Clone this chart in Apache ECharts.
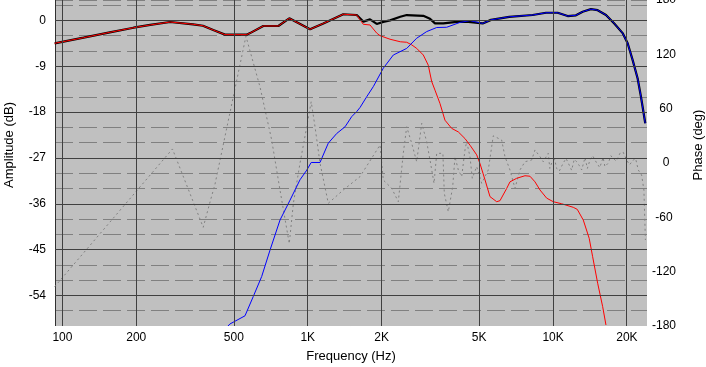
<!DOCTYPE html>
<html><head><meta charset="utf-8">
<script src="https://cdn.jsdelivr.net/npm/echarts@6/dist/echarts.min.js"></script>
<style>html,body{margin:0;padding:0;background:#fff}#c{width:706px;height:367px}</style>
</head><body><div id="c"></div>
<script>
// Axis ticks
const freqTicks = [100, 200, 500, 1000, 2000, 5000, 10000, 20000];
const freqTickLabels = ['100', '200', '500', '1K', '2K', '5K', '10K', '20K'];
const dbTicks = [0, -9, -18, -27, -36, -45, -54];
const freqMin = 93.3, freqMax = 24150;

// Total (black)
const totalFreq = [93,122,156,195,228,275,341,374,412,460,564,582,659,759,841,1022,1158,1396,1584,1685,1794,1911,2032,2165,2384,2532,2959,3151,3302,3570,4048,4416,5166,5584,6630,8260,9360,10440,11470,12400,13200,14270,15200,16430,17760,19210,20140,21110,22120,22820,23760];
const totalDb = [-4.5,-3.4,-2.35,-1.44,-0.9,-0.32,-0.77,-1.05,-1.9,-2.8,-2.8,-2.5,-1.1,-1.1,0.4,-1.75,-0.6,1.2,1.05,-0.25,0.2,-0.7,-0.3,0.0,0.7,1.05,0.9,0.3,-0.6,-0.6,-0.3,-0.25,-0.6,0.1,0.7,1.05,1.5,1.5,0.85,1.0,1.7,2.2,2.0,1.05,-0.6,-2.5,-4.5,-7.8,-11.4,-15.0,-20.2];

// Woofer (red)
const wooferFreq = [93,122,156,195,228,275,341,374,412,460,564,582,659,759,841,1022,1158,1396,1584,1608,1685,1794,1911,1971,2165,2384,2532,2653,2781,2959,3100,3201,3302,3459,3626,3861,4110,4375,4586,4883,5036,5279,5532,5891,6076,6470,6674,7108,7684,8054,8441,8846,9417,10020,10840,12090,12550,13280,14040,14500,15200,15930,16430];
const wooferDb = [-4.5,-3.4,-2.35,-1.44,-0.9,-0.32,-0.77,-1.05,-1.9,-2.8,-2.8,-2.5,-1.1,-1.1,0.4,-1.75,-0.6,1.2,1.05,1.0,-0.77,-0.9,-2.5,-3.0,-3.7,-4.2,-4.3,-4.8,-5.5,-6.8,-8.8,-12.0,-13.7,-16.3,-19.6,-21.2,-21.9,-23.2,-24.5,-26.4,-28.1,-31.3,-34.6,-35.6,-35.4,-33.0,-31.7,-31.0,-30.5,-30.6,-31.7,-33.3,-34.9,-35.6,-36.0,-36.7,-37.1,-39.2,-42.8,-46.4,-51.6,-56.2,-59.8];

// Tweeter (blue)
const tweeterFreq = [473,482,555,600,649,702,771,847,930,991,1033,1122,1213,1313,1419,1511,1584,1634,1739,1851,2032,2233,2532,2781,3054,3356,3685,4175,4586,5166,5584,6630,8260,9360,10440,11470,12400,13200,14270,15200,16430,17760,19210,20140,21110,22120,22820,23760];
const tweeterDb = [-60,-59.6,-58.0,-54.2,-50.3,-45.1,-39.2,-35.3,-31.3,-29.4,-27.9,-27.9,-24.1,-22.2,-20.9,-18.9,-17.9,-17.1,-15.0,-13.0,-9.4,-6.8,-5.5,-3.5,-2.2,-1.4,-1.35,-0.4,-0.05,-0.6,0.1,0.7,1.05,1.5,1.5,0.85,1.0,1.7,2.2,2.0,1.05,-0.6,-2.5,-4.5,-7.8,-11.4,-15.0,-20.2];

// Phase (grey dotted, right axis)
const phaseFreq = [93,281,375,400,419,560,639,713,771,841,874,930,991,1033,1071,1122,1213,1396,1634,1971,2032,2200,2340,2452,2532,2653,2781,2915,3054,3151,3272,3356,3556,3603,3741,3899,3983,4110,4242,4375,4445,4586,4685,4883,5117,5444,5706,6172,6368,6674,6994,7330,7684,8181,8441,8846,9120,9559,9700,9869,10150,10340,10600,11000,11300,11720,11900,12200,12480,12800,13080,13500,13800,14140,14500,15060,15500,16000,16270,16800,17200,17590,18100,18730,19300,19950,20500,21230,21700,22250,22960,23460,23790];
const phaseDeg = [-136.6,15.5,-71,-42.7,-23.2,140,84,25.4,-30,-89,-44.5,-0.3,40,67.7,40,0,-44.5,-29.8,-15,19.9,-18.8,-28,-42.7,10.7,40,21.8,1.4,43.8,23.6,3.3,-22.4,10.7,10.7,-33.5,-53.8,-26.2,7,-7.7,-15,14.4,23.6,7,-16.9,-4,-22.4,-7.7,30,25.4,7,-7.7,-28,-7.7,1.4,3.3,14.4,7,1.4,10.7,-6,0,4,-5.9,-9,0,5,-4,-8,4,1.4,-3,-7.7,6,-6,3.3,8,0,-5,6,-4,0,8,5.2,2,10.7,12,3.3,-2,3.3,5,-7.7,-13.3,-30,-85];

const FONT = '"Liberation Sans", Arial, sans-serif';
const toXY = (fs, vs) => fs.map((f, i) => [Math.log10(f), vs[i]]);
const labelFor = v => {
  for (let i = 0; i < freqTicks.length; i++) if (Math.abs(Math.log10(freqTicks[i]) - v) < 1e-6) return freqTickLabels[i];
  return '';
};
const gridLineStyle = { type: 'solid', color: '#404040', width: 1 };

const chart = echarts.init(document.getElementById('c'), null, { renderer: 'canvas' });
chart.setOption({
  animation: false,
  backgroundColor: '#ffffff',
  textStyle: { fontFamily: FONT },
  grid: { left: 55, top: 0, width: 592, height: 326, show: true, backgroundColor: '#c0c0c0', borderWidth: 0, containLabel: false, outerBoundsMode: 'none' },
  xAxis: {
    type: 'value', min: Math.log10(freqMin), max: Math.log10(freqMax),
    name: 'Frequency (Hz)', nameLocation: 'middle', nameGap: 24,
    nameTextStyle: { color: '#000', fontSize: 13, fontFamily: FONT },
    axisLine: { show: true, onZero: false, lineStyle: { color: '#ffffff', width: 1 } },
    axisTick: { show: false },
    splitLine: { show: false },
    axisLabel: { customValues: freqTicks.map(f => Math.log10(f)), formatter: labelFor, color: '#000', fontSize: 12, fontFamily: FONT, margin: 6 }
  },
  yAxis: [
    {
      type: 'value', min: -60, max: 4, interval: 3, position: 'left',
      axisLine: { show: true, lineStyle: { color: '#303030', width: 1 } },
      axisTick: { show: false },
      axisLabel: { color: '#000', fontSize: 12, fontFamily: FONT, margin: 9, formatter: v => dbTicks.includes(v) ? String(v) : '' },
      splitLine: { show: true, lineStyle: { type: [18, 6], color: '#808080', width: 1 } }
    },
    {
      type: 'value', min: -180, max: 180, interval: 60, position: 'right',
      axisLine: { show: true, lineStyle: { color: '#ffffff', width: 1 } },
      axisTick: { show: false },
      splitLine: { show: false },
      axisLabel: {
        color: '#000', fontSize: 12, fontFamily: FONT, margin: 19, align: 'center',
        formatter: v => v < 0 ? '{n|' + v + '}' : String(v),
        rich: { n: { color: '#000', fontSize: 12, fontFamily: FONT, padding: [0, 4, 0, 0] } }
      }
    }
  ],
  graphic: [
    { type: 'text', x: 9, y: 145, rotation: Math.PI / 2, style: { text: 'Amplitude (dB)', fill: '#000', fontSize: 13, fontFamily: FONT, align: 'center', verticalAlign: 'middle' } },
    { type: 'text', x: 698, y: 145, rotation: Math.PI / 2, style: { text: 'Phase (deg)', fill: '#000', fontSize: 13, fontFamily: FONT, align: 'center', verticalAlign: 'middle' } }
  ],
  series: [
    {
      name: 'grid', type: 'line', data: [], z: 1, silent: true,
      markLine: {
        silent: true, symbol: ['none', 'none'], label: { show: false }, lineStyle: gridLineStyle, animation: false,
        emphasis: { disabled: true },
        data: dbTicks.map(v => ({ yAxis: v })).concat(freqTicks.map(f => ({ xAxis: Math.log10(f) })))
      }
    },
    { name: 'Phase', type: 'line', yAxisIndex: 1, data: toXY(phaseFreq, phaseDeg), symbol: 'none', z: 2, silent: true,
      lineStyle: { color: '#808080', width: 1, type: [2, 3] } },
    { name: 'Total', type: 'line', data: toXY(totalFreq, totalDb), symbol: 'none', z: 3, silent: true,
      lineStyle: { color: '#000000', width: 2.2 } },
    { name: 'Woofer', type: 'line', data: toXY(wooferFreq, wooferDb), symbol: 'none', z: 4, silent: true,
      lineStyle: { color: '#ff0000', width: 1 } },
    { name: 'Tweeter', type: 'line', data: toXY(tweeterFreq, tweeterDb), symbol: 'none', z: 4, silent: true,
      lineStyle: { color: '#0000ff', width: 1 } }
  ]
});
</script>
</body></html>
